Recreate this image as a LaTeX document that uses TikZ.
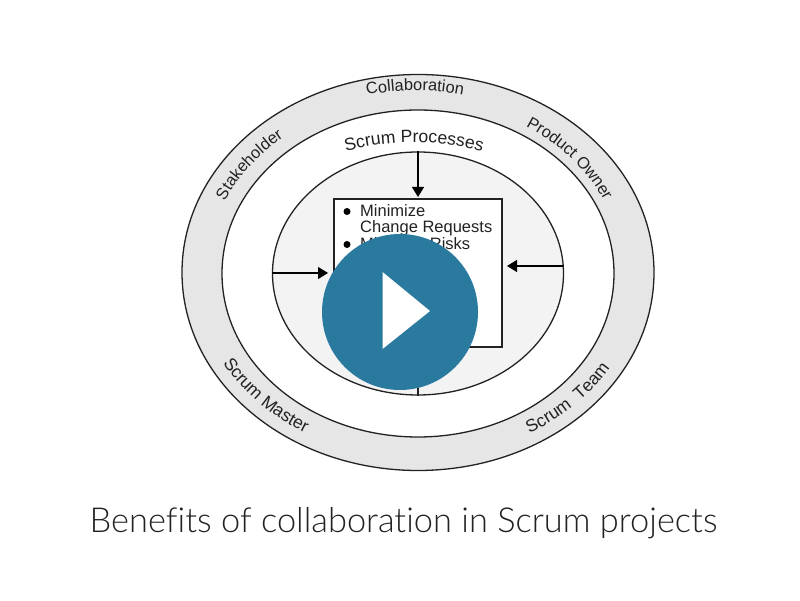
\documentclass[tikz,border=0pt]{standalone}
\usepackage{fontspec}
\setmainfont{Liberation Sans}
\newfontfamily\titlefont[Ligatures=NoCommon]{Lato Light}
\usetikzlibrary{shapes.geometric,arrows.meta,decorations.text}
\definecolor{band}{HTML}{E6E6E6}
\definecolor{core}{HTML}{F3F3F3}
\definecolor{playblue}{HTML}{2A799F}
\definecolor{ink}{HTML}{222222}
\tikzset{
  ring/.style={ellipse,draw=ink,line width=1.3pt,inner sep=0pt},
  arrowline/.style={draw=black,line width=1.1pt,-{Triangle[length=10pt,width=12pt]}},
  curved/.style 2 args={decorate,decoration={text along path,text align=center,raise=0pt,text={|\fontsize{#1}{#1}\selectfont\color{ink}|#2}}},
  boxtext/.style={font=\fontsize{16.5}{17}\selectfont,text=ink,anchor=base west,inner sep=0pt},
  bulletdot/.style={circle,fill=black,minimum size=7pt,inner sep=0pt}
}
\begin{document}
\begin{tikzpicture}[x=1pt,y=1pt]
\useasboundingbox (0,0) rectangle (800,600);
\fill[white] (0,0) rectangle (800,600);
\node[ring,fill=band,minimum width=472pt,minimum height=396pt] (outer) at (418,327.5) {};
\node[ring,fill=white,minimum width=392pt,minimum height=327pt] (middle) at (418,326.5) {};
\node[ring,fill=core,minimum width=291pt,minimum height=243pt] (inner) at (418,326.5) {};
\node[draw=ink,fill=white,line width=1.1pt,minimum width=168pt,minimum height=148pt,inner sep=0pt] (box) at (418,327) {};
\coordinate (leftin) at (272,327);
\coordinate (lefttip) at (328,327);
\coordinate (rightin) at (563,334);
\coordinate (righttip) at (507,334);
\coordinate (toptip) at (418,403);
\draw[arrowline] (inner.north) -- (toptip);
\draw[arrowline] (leftin) -- (lefttip);
\draw[arrowline] (rightin) -- (righttip);
\draw[line width=1.1pt,draw=ink] (box.south) -- (inner.south);
\node[boxtext] (t1) at (360,383) {Minimize};
\node[boxtext] (t2) at (360,367) {Change Requests};
\node[boxtext] (t3) at (360,350) {Minimize Risks};
\node[bulletdot] (b1) at (347,388.5) {};
\node[bulletdot] (b2) at (347,355.5) {};
% curved labels
\path[curved={16.4}{Collaboration}] (415,326.5) ++(115:218 and 183) arc (115:65:218 and 183);
\path[curved={17.6}{Scrum Processes}] (414,326.5) ++(130:190 and 131) arc (130:50:190 and 131);
\path[curved={16.4}{Stakeholder}] (418,326.5) ++(179:212 and 176) arc (179:109:212 and 176);
\path[curved={16.4}{Product Owner}] (418,326.5) ++(80:205 and 173) arc (80:0:205 and 173);
\path[curved={17.5}{Scrum Master}] (416,326.5) ++(180:221 and 184) arc (180:265:221 and 184);
\path[curved={17.5}{Scrum{\ \ }Team}] (420,326.5) ++(274:221 and 184) arc (274:359:221 and 184);
% play button
\node[circle,fill=playblue,minimum size=156pt,inner sep=0pt] (play) at (400,288) {};
\fill[white] (382.5,328) -- (382.5,251) -- (430,289) -- cycle;
\node[font=\titlefont\fontsize{34.4}{36}\selectfont,text=ink,inner sep=0pt] (title) at (403.5,77) {Benefits of collaboration in Scrum projects};
\end{tikzpicture}
\end{document}
